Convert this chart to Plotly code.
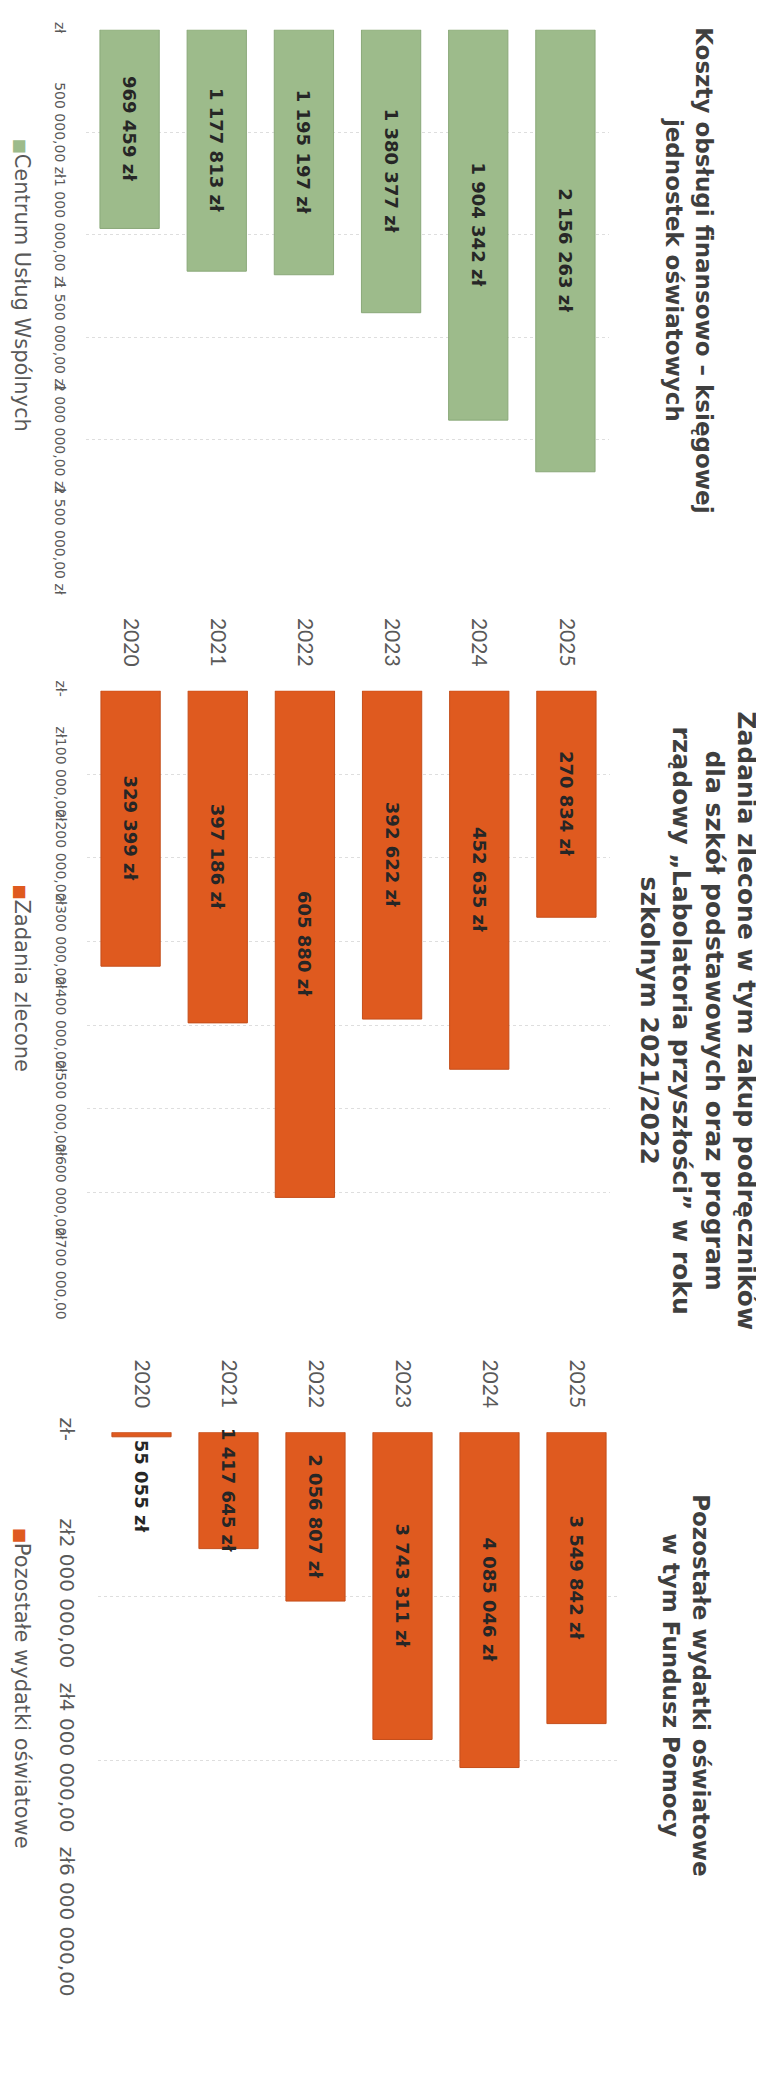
import plotly.graph_objects as go

W, H = 764, 2073

years = ["2020", "2021", "2022", "2023", "2024", "2025"]

cuw_values = [969459, 1177813, 1195197, 1380377, 1904342, 2156263]
zlecone_values = [329399, 397186, 605880, 392622, 452635, 270834]
pozostale_values = [55055, 1417645, 2056807, 3743311, 4085046, 3549842]

cuw_tickvals = [0, 500000, 1000000, 1500000, 2000000, 2500000]
cuw_ticktext = ["zł", "500 000,00 zł", "1 000 000,00 zł", "1 500 000,00 zł",
                "2 000 000,00 zł", "2 500 000,00 zł"]
zl_tickvals = [0, 100000, 200000, 300000, 400000, 500000, 600000, 700000]
zl_ticktext = ["zł-", "zł100 000,00", "zł200 000,00", "zł300 000,00", "zł400 000,00",
               "zł500 000,00", "zł600 000,00", "zł700 000,00"]
poz_tickvals = [0, 2000000, 4000000, 6000000]
poz_ticktext = ["zł-", "zł2 000 000,00", "zł4 000 000,00", "zł6 000 000,00"]

titles = [
    "Koszty obsługi finansowo – księgowej<br>jednostek oświatowych",
    "Zadania zlecone w tym zakup podręczników<br>dla szkół podstawowych oraz program<br>"
    "rządowy „Labolatoria przyszłości” w roku<br>szkolnym 2021/2022",
    "Pozostałe wydatki oświatowe<br>w tym Fundusz Pomocy",
]
legend_names = ["Centrum Usług Wspólnych", "Zadania zlecone", "Pozostałe wydatki oświatowe"]

GREEN = "#9dbb8b"
ORANGE = "#df5a1f"
GREEN_EDGE = "#8aa879"
ORANGE_EDGE = "#c44e1b"
LABEL_COLOR = "#262626"
AXIS_COLOR = "#595959"
TITLE_COLOR = "#3f3f3f"
GRID = "#dedede"


def fmt(v):
    return f"{v:,}".replace(",", " ") + " zł"


def px_x(p):
    return p / W


def px_y(p):
    return 1 - p / H


fig = go.Figure()

bar_font = dict(family="DejaVu Sans", size=18, color=LABEL_COLOR, weight="bold")

fig.add_trace(go.Bar(
    x=years, y=cuw_values, xaxis="x", yaxis="y",
    marker=dict(color=GREEN, line=dict(color=GREEN_EDGE, width=1)),
    text=[fmt(v) for v in cuw_values], textposition="inside",
    insidetextanchor="middle", textangle=90, textfont=bar_font,
    constraintext="none", cliponaxis=False, showlegend=False,
))
fig.add_trace(go.Bar(
    x=years, y=zlecone_values, xaxis="x2", yaxis="y2",
    marker=dict(color=ORANGE, line=dict(color=ORANGE_EDGE, width=1)),
    text=[fmt(v) for v in zlecone_values], textposition="inside",
    insidetextanchor="middle", textangle=90, textfont=bar_font,
    constraintext="none", cliponaxis=False, showlegend=False,
))
fig.add_trace(go.Bar(
    x=years, y=pozostale_values, xaxis="x3", yaxis="y3",
    marker=dict(color=ORANGE, line=dict(color=ORANGE_EDGE, width=1)),
    text=[fmt(v) for v in pozostale_values],
    textposition=["outside", "inside", "inside", "inside", "inside", "inside"],
    insidetextanchor="middle", textangle=90, textfont=bar_font,
    outsidetextfont=bar_font,
    constraintext="none", cliponaxis=False, showlegend=False,
))

tick_small = dict(family="DejaVu Sans", size=14, color=AXIS_COLOR)
tick_big = dict(family="DejaVu Sans", size=20, color=AXIS_COLOR)
year_font = dict(family="Lato", size=21, color=AXIS_COLOR)

common_x = dict(type="category", side="top", showgrid=False, zeroline=False,
                showline=False, ticks="", tickangle=90, tickfont=year_font,
                ticklabelstandoff=20)
common_y = dict(showgrid=True, gridcolor=GRID, gridwidth=1, griddash="dot",
                zeroline=False, showline=False, ticks="", tickangle=90,
                tickmode="array")

fig.update_layout(
    width=W, height=H,
    margin=dict(l=0, r=0, t=0, b=0),
    paper_bgcolor="white", plot_bgcolor="white",
    bargap=0.32,
    showlegend=False,
    uniformtext=dict(minsize=18, mode="show"),
    xaxis=dict(common_x, domain=[px_x(78), px_x(601)], anchor="y", showticklabels=False),
    yaxis=dict(common_y, domain=[px_y(542), px_y(7)], anchor="x",
               range=[2500000, 0], tickvals=cuw_tickvals, ticktext=cuw_ticktext,
               tickfont=tick_small, ticklabelstandoff=16),
    xaxis2=dict(common_x, domain=[px_x(79), px_x(602)], anchor="y2"),
    yaxis2=dict(common_y, domain=[px_y(1308), px_y(697)], anchor="x2",
                range=[700000, 0], tickvals=zl_tickvals, ticktext=zl_ticktext,
                tickfont=tick_small, ticklabelstandoff=16),
    xaxis3=dict(common_x, domain=[px_x(90), px_x(612)], anchor="y3"),
    yaxis3=dict(common_y, domain=[px_y(1985), px_y(1471)], anchor="x3",
                range=[6000000, 0], tickvals=poz_tickvals, ticktext=poz_ticktext,
                tickfont=tick_big, ticklabelstandoff=17),
)

title_fonts = [23, 25, 23]
title_pos = [(681, 258), (690, 1041), (678, 1735)]
for txt, fs, (tx, ty) in zip(titles, title_fonts, title_pos):
    fig.add_annotation(text=txt, x=px_x(tx), y=px_y(ty), xref="paper", yref="paper",
                       xanchor="center", yanchor="middle", textangle=90,
                       showarrow=False, align="center",
                       font=dict(family="DejaVu Sans", size=fs, color=TITLE_COLOR,
                                 weight="bold"))

legend_font = dict(family="DejaVu Sans", size=21, color=AXIS_COLOR)
legend_pos = [(14, 118, GREEN), (14, 897, ORANGE), (14, 1568, ORANGE)]
for name, (lx, ly, col) in zip(legend_names, legend_pos):
    fig.add_annotation(
        text=f'<span style="color:{col};font-size:16px">■</span>{name}',
        x=px_x(lx), y=px_y(ly), xref="paper", yref="paper",
        xanchor="center", yanchor="top", textangle=90, showarrow=False,
        font=legend_font)

# handwritten mark from the scan
fig.add_shape(type="path", path="M 3 1911 Q 34 1924 4 1939",
              xref="paper", yref="paper", line=dict(color="#6b6bd6", width=2))

fig.write_html("out.html")
